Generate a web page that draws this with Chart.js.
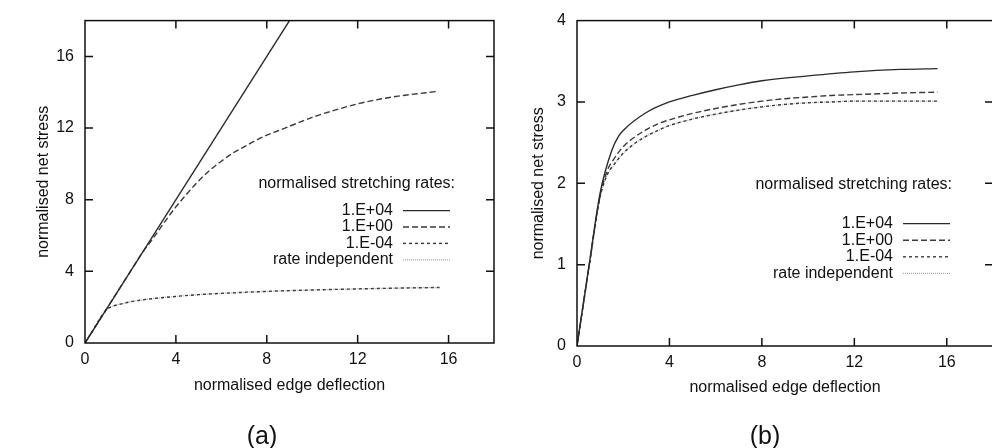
<!DOCTYPE html>
<html>
<head>
<meta charset="utf-8">
<script src="https://cdn.jsdelivr.net/npm/chart.js@4.4.1/dist/chart.umd.min.js"></script>
<style>
    html, body { margin: 0; padding: 0; background: #fff; }
    body { width: 992px; height: 448px; overflow: hidden; position: relative; }
    canvas { position: absolute; top: 0; }
    #chartA { left: 0; }
    #chartB { left: 496px; }
    .caption {
        position: absolute;
        font: 25px "Liberation Sans", Arial, sans-serif;
        line-height: 1;
        color: #111;
        transform: translate(-50%, -50%);
    }
</style>
</head>
<body>
<canvas id="chartA" width="496" height="448"></canvas>
<canvas id="chartB" width="510" height="448"></canvas>
<div class="caption" style="left:262px; top:435px;">(a)</div>
<div class="caption" style="left:765px; top:435px;">(b)</div>
<script>
const rateLabels = ['1.E+04', '1.E+00', '1.E-04', 'rate independent'];
const keyTitle = 'normalised stretching rates:';
const xTitle = 'normalised edge deflection';
const yTitle = 'normalised net stress';

// panel (a)
const aDefl1E04 = [0, 9];
const aStress1E04 = [0, 18];
const aDefl1E00 = [0, 1, 2, 2.5, 3, 3.5, 4, 4.5, 5, 5.5, 6, 6.5, 7, 7.5, 8, 8.5, 9, 10, 11, 12, 13, 14, 15, 15.5];
const aStress1E00 = [0, 2, 4, 5, 5.85, 6.75, 7.6, 8.35, 9.05, 9.65, 10.15, 10.6, 10.95, 11.3, 11.6, 11.85, 12.1, 12.6, 13.0, 13.35, 13.62, 13.82, 13.97, 14.05];
const aDefl1E_04 = [0, 0.9, 1, 1.2, 1.5, 2, 3, 4, 5, 6, 8, 10, 12, 14, 15.6];
const aStress1E_04 = [0, 1.8, 1.92, 2.05, 2.15, 2.3, 2.48, 2.6, 2.7, 2.77, 2.88, 2.96, 3.02, 3.07, 3.1];
const aDeflRateInd = [0, 0.9, 1, 1.2, 1.5, 2, 3, 4, 5, 6, 8, 10, 12, 14, 15.6];
const aStressRateInd = [0, 1.8, 1.92, 2.05, 2.15, 2.3, 2.48, 2.6, 2.7, 2.77, 2.88, 2.96, 3.02, 3.07, 3.1];

// panel (b)
const bDefl1E04 = [0, 0.5, 1, 1.5, 1.8, 2, 3, 4, 5, 6, 7, 8, 10, 12, 14, 15.6];
const bStress1E04 = [0, 0.95, 1.88, 2.4, 2.58, 2.65, 2.87, 3.0, 3.08, 3.15, 3.21, 3.26, 3.32, 3.37, 3.4, 3.41];
const bDefl1E00 = [0, 0.5, 1, 1.3, 1.6, 2, 2.5, 3, 3.5, 4, 5, 6, 7, 8, 9, 10, 11, 12, 13, 14, 15.6];
const bStress1E00 = [0, 0.94, 1.85, 2.15, 2.3, 2.45, 2.57, 2.66, 2.73, 2.78, 2.86, 2.92, 2.97, 3.01, 3.04, 3.06, 3.08, 3.09, 3.1, 3.11, 3.12];
const bDefl1E_04 = [0, 0.5, 1, 1.3, 1.6, 2, 2.5, 3, 3.5, 4, 5, 6, 7, 8, 9, 10, 11, 12, 14, 15.6];
const bStress1E_04 = [0, 0.93, 1.83, 2.1, 2.23, 2.37, 2.49, 2.58, 2.65, 2.71, 2.79, 2.85, 2.9, 2.94, 2.97, 2.99, 3.0, 3.01, 3.01, 3.01];
const bDeflRateInd = [0, 0.5, 1, 1.3, 1.6, 2, 2.5, 3, 3.5, 4, 5, 6, 7, 8, 9, 10, 11, 12, 14, 15.6];
const bStressRateInd = [0, 0.93, 1.83, 2.1, 2.23, 2.37, 2.49, 2.58, 2.65, 2.71, 2.79, 2.85, 2.9, 2.94, 2.97, 2.99, 3.0, 3.01, 3.01, 3.01];

const FONT = { family: '"Liberation Sans", Arial, sans-serif', size: 16 };
const lineStyles = [
    { color: '#2a2a2a', dash: [], width: 1.4 },
    { color: '#3a3a3a', dash: [6, 3], width: 1.4 },
    { color: '#3a3a3a', dash: [3, 3], width: 1.4 },
    { color: '#a8a8a8', dash: [1, 1], width: 1.2 }
];

document.addEventListener("DOMContentLoaded", function () {
    initChartA();
    initChartB();
});

function zip(xs, ys) {
    return xs.map(function (x, i) { return { x: x, y: ys[i] }; });
}

function buildDatasets(series) {
    return series.map(function (pts, i) {
        const st = lineStyles[i];
        return {
            label: rateLabels[i],
            data: pts,
            showLine: true,
            borderColor: st.color,
            borderDash: st.dash,
            borderWidth: st.width,
            pointRadius: 0,
            cubicInterpolationMode: 'monotone',
            fill: false
        };
    });
}

// frame box with inward tick marks on all four sides
const frameTicks = {
    id: 'frameTicks',
    afterDraw(chart) {
        const { ctx, chartArea: a, scales } = chart;
        const len = 8;
        ctx.save();
        ctx.strokeStyle = '#111';
        ctx.lineWidth = 1.5;
        ctx.setLineDash([]);
        ctx.strokeRect(a.left, a.top, a.right - a.left, a.bottom - a.top);
        ctx.beginPath();
        scales.x.ticks.forEach(function (t) {
            if (t.value <= scales.x.min || t.value >= scales.x.max) return;
            const px = scales.x.getPixelForValue(t.value);
            ctx.moveTo(px, a.bottom); ctx.lineTo(px, a.bottom - len);
            ctx.moveTo(px, a.top); ctx.lineTo(px, a.top + len);
        });
        scales.y.ticks.forEach(function (t) {
            if (t.value <= scales.y.min || t.value >= scales.y.max) return;
            const py = scales.y.getPixelForValue(t.value);
            ctx.moveTo(a.left, py); ctx.lineTo(a.left + len, py);
            ctx.moveTo(a.right, py); ctx.lineTo(a.right - len, py);
        });
        ctx.stroke();
        ctx.restore();
    }
};

// key drawn inside the plot: text right-aligned, sample line to its right
const insideKey = {
    id: 'insideKey',
    afterDatasetsDraw(chart, args, opts) {
        const { ctx, chartArea: a } = chart;
        ctx.save();
        ctx.font = FONT.size + 'px ' + FONT.family;
        ctx.fillStyle = '#111';
        ctx.textAlign = 'right';
        ctx.textBaseline = 'middle';
        ctx.fillText(opts.title, a.right - opts.titleRight, a.top + opts.titleY);
        chart.data.datasets.forEach(function (ds, i) {
            const y = a.top + opts.rowY + i * opts.rowGap;
            ctx.fillText(ds.label, a.right - opts.textRight, y);
            ctx.strokeStyle = ds.borderColor;
            ctx.lineWidth = ds.borderWidth;
            ctx.setLineDash(ds.borderDash || []);
            ctx.beginPath();
            ctx.moveTo(a.right - opts.lineFrom, y);
            ctx.lineTo(a.right - opts.lineTo, y);
            ctx.stroke();
        });
        ctx.restore();
    }
};

function makeOptions(p) {
    return {
        responsive: false,
        animation: false,
        layout: { padding: { left: 0, right: p.padRight, top: p.padTop, bottom: 0 } },
        plugins: {
            legend: { display: false },
            tooltip: { enabled: false },
            insideKey: p.key
        },
        scales: {
            x: {
                type: 'linear',
                min: 0,
                max: 18,
                grid: { display: false, drawTicks: false },
                border: { display: false },
                ticks: {
                    stepSize: 2,
                    autoSkip: false,
                    maxRotation: 0,
                    padding: 7,
                    color: '#111',
                    font: FONT,
                    callback: function (v) { return v % 4 === 0 ? v : null; }
                },
                title: {
                    display: true,
                    text: xTitle,
                    color: '#111',
                    font: FONT,
                    padding: { top: 0, bottom: p.xTitlePad }
                },
                afterFit: function (s) { s.height = p.xHeight; }
            },
            y: {
                type: 'linear',
                min: 0,
                max: p.yMax,
                grid: { display: false, drawTicks: false },
                border: { display: false },
                ticks: {
                    stepSize: p.yStep,
                    autoSkip: false,
                    padding: 11,
                    color: '#111',
                    font: FONT,
                    callback: function (v) { return v % p.yLabelStep === 0 ? v : null; }
                },
                title: {
                    display: true,
                    text: yTitle,
                    color: '#111',
                    font: FONT,
                    padding: { top: p.yTitlePad, bottom: 0 }
                },
                afterFit: function (s) { s.width = p.yWidth; }
            }
        }
    };
}

function initChartA() {
    const series = [
        zip(aDefl1E04, aStress1E04),
        zip(aDefl1E00, aStress1E00),
        zip(aDefl1E_04, aStress1E_04),
        zip(aDeflRateInd, aStressRateInd)
    ];
    const ctx = document.getElementById('chartA').getContext('2d');
    new Chart(ctx, {
        type: 'scatter',
        data: { datasets: buildDatasets(series) },
        options: makeOptions({
            padRight: 2, padTop: 17, xHeight: 105, xTitlePad: 53, yWidth: 85, yTitlePad: 34,
            yMax: 18, yStep: 2, yLabelStep: 4,
            key: { title: keyTitle, titleRight: 39, titleY: 163, textRight: 101, rowY: 190, rowGap: 16.4, lineFrom: 91, lineTo: 44 }
        }),
        plugins: [frameTicks, insideKey]
    });
}

function initChartB() {
    const series = [
        zip(bDefl1E04, bStress1E04),
        zip(bDefl1E00, bStress1E00),
        zip(bDefl1E_04, bStress1E_04),
        zip(bDeflRateInd, bStressRateInd)
    ];
    const ctx = document.getElementById('chartB').getContext('2d');
    new Chart(ctx, {
        type: 'scatter',
        data: { datasets: buildDatasets(series) },
        options: makeOptions({
            padRight: 13, padTop: 19, xHeight: 102, xTitlePad: 51, yWidth: 81, yTitlePad: 33,
            yMax: 4, yStep: 1, yLabelStep: 1,
            key: { title: keyTitle, titleRight: 41, titleY: 164, textRight: 100, rowY: 203, rowGap: 16.6, lineFrom: 90, lineTo: 43 }
        }),
        plugins: [frameTicks, insideKey]
    });
}
</script>
</body>
</html>
